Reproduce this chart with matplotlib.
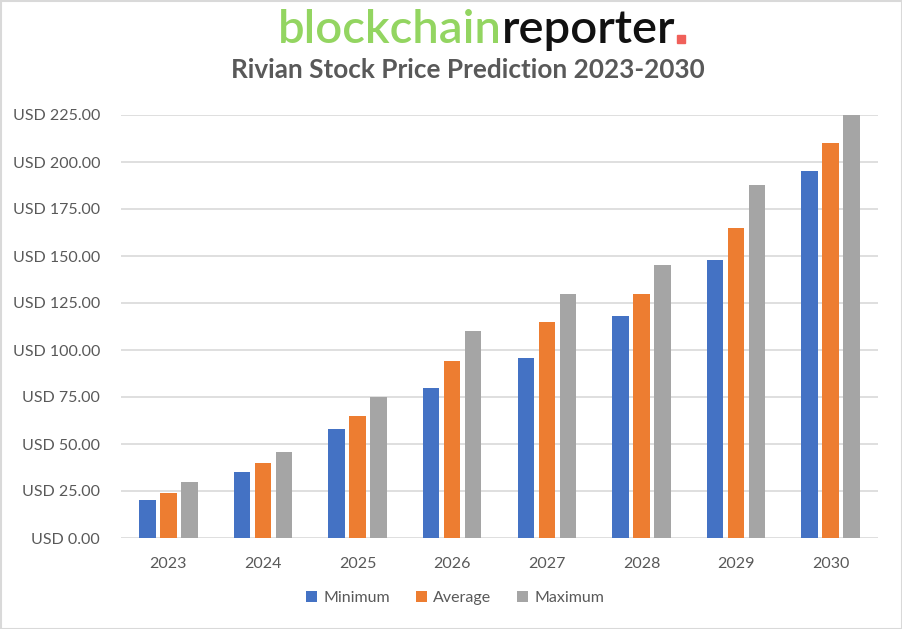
import matplotlib
matplotlib.use("Agg")
import matplotlib.pyplot as plt
import numpy as np
from matplotlib.patches import Rectangle

years = ["2023", "2024", "2025", "2026", "2027", "2028", "2029", "2030"]
minimum = [20, 35, 58, 80, 96, 118, 148, 195]
average = [24, 40, 65, 94, 115, 130, 165, 210]
maximum = [30, 46, 75, 110, 130, 145, 188, 225]
series_names = ["Minimum", "Average", "Maximum"]
colors = ["#4472c4", "#ed7d31", "#a5a5a5"]
yticks = [0, 25, 50, 75, 100, 125, 150, 175, 200, 225]

TEXT = "#595959"
plt.rcParams["font.family"] = ["Lato", "DejaVu Sans"]

W, H = 902, 629
fig = plt.figure(figsize=(W / 100, H / 100), dpi=100)
ax = fig.add_axes([121 / W, 1 - 538 / H, (878 - 121) / W, (538 - 115) / H])

x = np.arange(len(years))
bw = 0.175
step = 0.222
for i, (vals, name) in enumerate(zip([minimum, average, maximum], series_names)):
    ax.bar(x + (i - 1) * step, vals, width=bw, color=colors[i], label=name, zorder=3)

ax.set_xlim(-0.5, len(years) - 0.5)
ax.set_ylim(0, 225)
ax.set_yticks(yticks)
ax.set_yticklabels([f"USD {v:.2f}" for v in yticks])
ax.set_xticks(x)
ax.set_xticklabels(years)
ax.tick_params(axis="both", length=0, colors=TEXT, labelsize=11.5)
ax.tick_params(axis="y", pad=15)
ax.tick_params(axis="x", pad=14)
ax.grid(axis="y", color="#d9d9d9", linewidth=1.2, zorder=0)
for s in ax.spines.values():
    s.set_visible(False)

leg = fig.legend(loc="center", bbox_to_anchor=(455 / W, 1 - 598 / H), ncol=3,
                 frameon=False, fontsize=11.5, handlelength=0.7, handleheight=0.7,
                 columnspacing=1.6, handletextpad=0.4)
for t in leg.get_texts():
    t.set_color(TEXT)

fig.text(468 / W, 1 - 70 / H, "Rivian Stock Price Prediction 2023-2030", ha="center",
         va="center", fontsize=18.8, fontweight="bold", color=TEXT)

# logo text, pieces placed one after another
fig.canvas.draw()
r = fig.canvas.get_renderer()
y_logo = 1 - 43 / H
t1 = fig.text(278 / W, y_logo, "blockchain", fontsize=34, color="#93d561",
              va="baseline", ha="left", fontweight="semibold")
bb = t1.get_window_extent(r)
t2 = fig.text(bb.x1 / W, y_logo, "reporter", fontsize=34, color="#111111",
              va="baseline", ha="left", fontweight="semibold")
bb2 = t2.get_window_extent(r)
fig.patches.append(Rectangle((bb2.x1 / W + 2 / W, y_logo), 8 / W, 8 / H,
                             transform=fig.transFigure, color="#f0605a"))

fig.patches.append(Rectangle((0.5 / W, 0.5 / H), 1 - 1 / W, 1 - 1 / H,
                             transform=fig.transFigure, fill=False,
                             edgecolor="#d9d9d9", linewidth=1.5))

fig.savefig("out.png", dpi=100)
